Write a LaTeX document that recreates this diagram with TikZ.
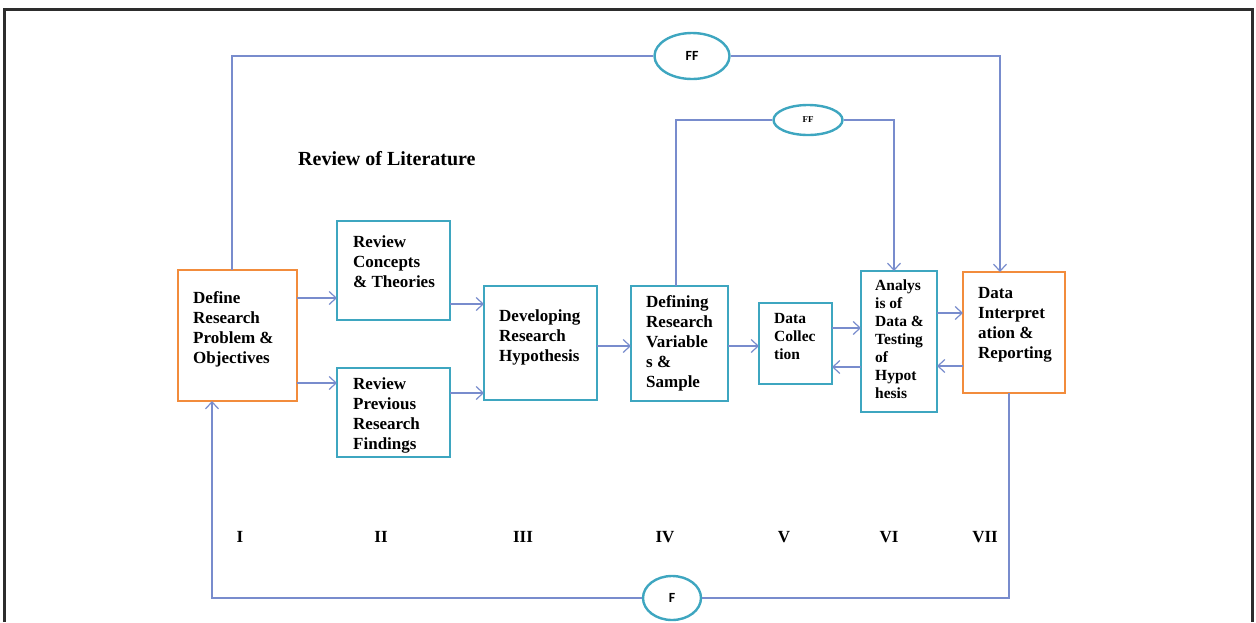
\documentclass[tikz,border=0pt]{standalone}
\usepackage{fontspec}
\setmainfont{Liberation Serif}
\newfontfamily\labelsans{Carlito}
\usetikzlibrary{arrows.meta,shapes.geometric}

\definecolor{boxteal}{RGB}{62,166,192}
\definecolor{boxorange}{RGB}{242,140,60}
\definecolor{linkblue}{RGB}{120,140,205}
\definecolor{framegray}{RGB}{45,45,45}

\begin{document}
\begin{tikzpicture}[x=1pt,y=-1pt,
  stagebox/.style={draw=boxteal, line width=2.6pt, inner sep=0pt, outer sep=0pt, anchor=north west},
  keybox/.style={stagebox, draw=boxorange},
  % multi-line texts are placed by the baseline of their last line
  boxtext/.style={anchor=base west, align=left, inner sep=0pt, font=\bfseries\fontsize{17}{20}\selectfont},
  smalltext/.style={boxtext, font=\bfseries\fontsize{15.5}{18}\selectfont},
  loopmark/.style={ellipse, draw=boxteal, line width=2.4pt, inner sep=0pt, fill=white},
  link/.style={draw=linkblue, line width=1.4pt},
  linkto/.style={link, -{Straight Barb[length=7pt,width=13pt,line width=1.2pt]}},
  numeral/.style={font=\bfseries\fontsize{17}{17}\selectfont, inner sep=0pt}]

\useasboundingbox (0,0) rectangle (1256,622);

% outer frame, open at the bottom
\draw[framegray, line width=3pt] (4.5,622) -- (4.5,9) -- (1252.5,9) -- (1252.5,622);

% stage boxes
\node[keybox, minimum width=119pt, minimum height=131pt] (def) at (178,270) {};
\node[stagebox, minimum width=113pt, minimum height=99pt] (con) at (337,221) {};
\node[stagebox, minimum width=113pt, minimum height=89pt] (prev) at (337,368) {};
\node[stagebox, minimum width=113pt, minimum height=114pt] (dev) at (484,286) {};
\node[stagebox, minimum width=97pt, minimum height=115pt] (var) at (631,286) {};
\node[stagebox, minimum width=73pt, minimum height=81pt] (col) at (759,303) {};
\node[stagebox, minimum width=76pt, minimum height=141pt] (ana) at (861,271) {};
\node[keybox, minimum width=102pt, minimum height=121pt] (rep) at (963,272) {};

% box texts
\node[boxtext] (t-def) at (193,363) {Define\\Research\\Problem \&\\Objectives};
\node[boxtext] (t-con) at (353,287) {Review\\Concepts\\\& Theories};
\node[boxtext] (t-prev) at (353,449) {Review\\Previous\\Research\\Findings};
\node[boxtext] (t-dev) at (499,361) {Developing\\Research\\Hypothesis};
\node[boxtext] (t-var) at (646,387) {Defining\\Research\\Variable\\s \&\\Sample};
\node[smalltext] (t-col) at (774,359) {Data\\Collec\\tion};
\node[smalltext] (t-ana) at (875,398) {Analys\\is of\\Data \&\\Testing\\of\\Hypot\\hesis};
\node[boxtext] (t-rep) at (978,358) {Data\\Interpret\\ation \&\\Reporting};

\node[anchor=base west, inner sep=0pt, font=\bfseries\fontsize{20}{20}\selectfont] (lit) at (298,165) {Review of Literature};

% feedback marks
\node[loopmark, minimum width=75pt, minimum height=46pt] (bigff) at (692,56) {\labelsans\bfseries\fontsize{14}{14}\selectfont FF};
\node[loopmark, minimum width=69pt, minimum height=30pt] (smallff) at (808,120) {\bfseries\fontsize{9}{9}\selectfont FF};
\node[loopmark, minimum width=58pt, minimum height=44pt] (fb) at (672,598) {\labelsans\bfseries\fontsize{14}{14}\selectfont F};

% forward links
\draw[linkto] (def.east |- 0,298) -- (con.west |- 0,298);
\draw[linkto] (def.east |- 0,383) -- (prev.west |- 0,383);
\draw[linkto] (con.east |- 0,304) -- (dev.west |- 0,304);
\draw[linkto] (prev.east |- 0,393) -- (dev.west |- 0,393);
\draw[linkto] (dev.east |- 0,346) -- (var.west |- 0,346);
\draw[linkto] (var.east |- 0,346) -- (col.west |- 0,346);
\draw[linkto] (col.east |- 0,328) -- (ana.west |- 0,328);
\draw[linkto] (ana.west |- 0,367) -- (col.east |- 0,367);
\draw[linkto] (ana.east |- 0,313) -- (rep.west |- 0,313);
\draw[linkto] (rep.west |- 0,366) -- (ana.east |- 0,366);

% feedback loops
\draw[link] (def.north -| 232,0) |- (bigff.west);
\draw[linkto] (bigff.east) -| (rep.north -| 1000,0);
\draw[link] (var.north -| 676,0) |- (smallff.west);
\draw[linkto] (smallff.east) -| (ana.north -| 894,0);
\draw[link] (rep.south -| 1009,0) |- (fb.east);
\draw[linkto] (fb.west) -| (def.south -| 212,0);

% stage numerals
\node[numeral] (n1) at (240,537) {I};
\node[numeral] (n2) at (381,537) {II};
\node[numeral] (n3) at (523,537) {III};
\node[numeral] (n4) at (665,537) {IV};
\node[numeral] (n5) at (784,537) {V};
\node[numeral] (n6) at (889,537) {VI};
\node[numeral] (n7) at (985,537) {VII};
\end{tikzpicture}
\end{document}
